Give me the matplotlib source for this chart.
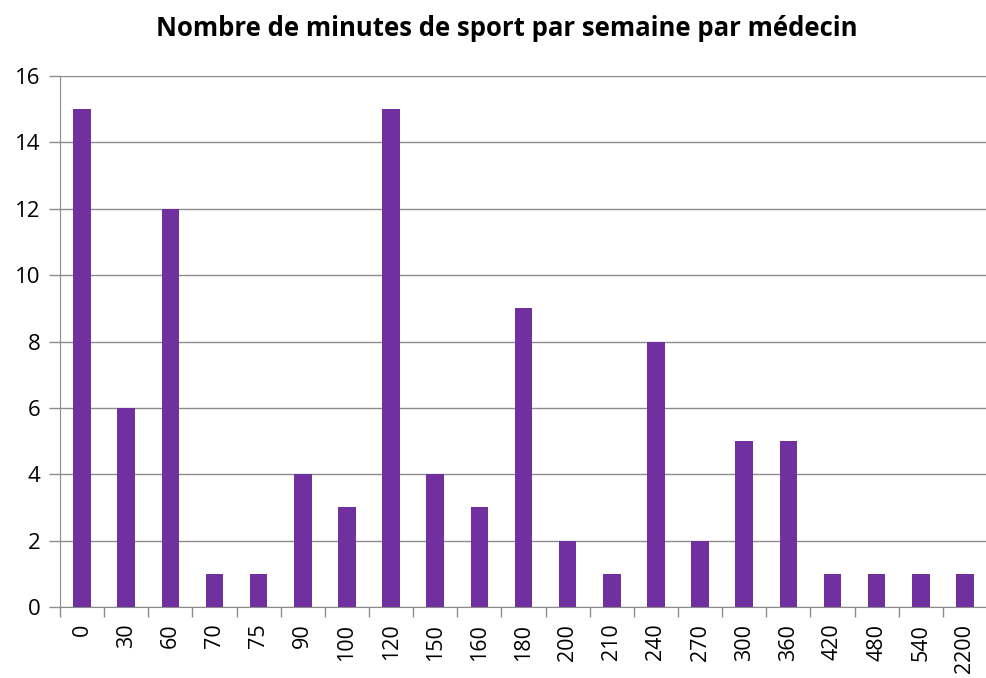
import matplotlib.pyplot as plt
import numpy as np

minutes = ["0", "30", "60", "70", "75", "90", "100", "120", "150", "160", "180",
           "200", "210", "240", "270", "300", "360", "420", "480", "540", "2200"]
counts = [15, 6, 12, 1, 1, 4, 3, 15, 4, 3, 9, 2, 1, 8, 2, 5, 5, 1, 1, 1, 1]

plt.rcParams['font.family'] = ['Open Sans', 'DejaVu Sans']

fig = plt.figure(figsize=(9.87, 6.78), dpi=100)
ax = fig.add_axes([60 / 987, 71 / 678, 927 / 987, 531 / 678])

x = np.arange(len(minutes))
ax.bar(x, counts, width=0.4, color="#7030A0", zorder=3)

ax.set_xlim(-0.5, len(minutes) - 0.5 - 7.5 / 44.5)
ax.set_ylim(0, 16)
ax.set_yticks(range(0, 17, 2))
ax.yaxis.grid(True, color="#8c8c8c", linewidth=1)
ax.set_axisbelow(True)

ax.set_xticks(x)
ax.set_xticklabels(minutes, rotation=90, fontsize=15.5)
ax.tick_params(axis="x", which="major", length=0, pad=12)
ax.set_xticks(np.arange(-0.5, len(minutes), 1), minor=True)
ax.tick_params(axis="x", which="minor", length=7, color="#8c8c8c", width=1)
ax.tick_params(axis="y", length=8, color="#8c8c8c", width=1, labelsize=16, pad=6)

for s in ["top", "right"]:
    ax.spines[s].set_visible(False)
for s in ["left", "bottom"]:
    ax.spines[s].set_color("#8c8c8c")

fig.text(507 / 987, 1 - 28 / 678, "Nombre de minutes de sport par semaine par médecin",
         ha="center", va="center", fontsize=18.5, fontweight="bold")

fig.savefig("out.png", dpi=100)
